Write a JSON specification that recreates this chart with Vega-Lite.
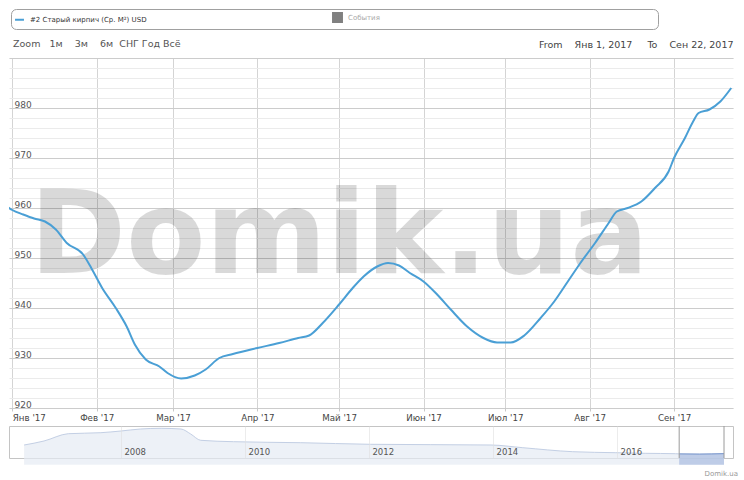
{
  "$schema": "https://vega.github.io/schema/vega-lite/v6.json",
  "padding": {"left": 8, "top": 8, "right": 4, "bottom": 0},
  "background": "white",
  "config": {
    "font": "DejaVu Sans",
    "view": {"stroke": null}
  },
  "datasets": {
    "price": [
      {"date": "2016-12-30", "value": 960.3},
      {"date": "2017-01-01", "value": 959.6},
      {"date": "2017-01-05", "value": 958.7},
      {"date": "2017-01-09", "value": 957.9},
      {"date": "2017-01-13", "value": 957.3},
      {"date": "2017-01-17", "value": 955.7},
      {"date": "2017-01-21", "value": 953.0},
      {"date": "2017-01-27", "value": 950.7},
      {"date": "2017-01-30", "value": 948.0},
      {"date": "2017-02-03", "value": 944.0},
      {"date": "2017-02-08", "value": 940.0},
      {"date": "2017-02-12", "value": 936.3},
      {"date": "2017-02-15", "value": 932.7},
      {"date": "2017-02-19", "value": 929.7},
      {"date": "2017-02-24", "value": 928.3},
      {"date": "2017-02-27", "value": 927.0},
      {"date": "2017-03-04", "value": 925.9},
      {"date": "2017-03-09", "value": 926.5},
      {"date": "2017-03-13", "value": 927.7},
      {"date": "2017-03-18", "value": 930.0},
      {"date": "2017-03-23", "value": 930.8},
      {"date": "2017-04-01", "value": 932.0},
      {"date": "2017-04-09", "value": 933.0},
      {"date": "2017-04-16", "value": 934.0},
      {"date": "2017-04-20", "value": 934.5},
      {"date": "2017-04-25", "value": 937.0},
      {"date": "2017-05-01", "value": 940.7},
      {"date": "2017-05-06", "value": 944.0},
      {"date": "2017-05-10", "value": 946.3},
      {"date": "2017-05-15", "value": 948.3},
      {"date": "2017-05-19", "value": 949.0},
      {"date": "2017-05-23", "value": 948.5},
      {"date": "2017-05-27", "value": 947.0},
      {"date": "2017-06-01", "value": 945.3},
      {"date": "2017-06-06", "value": 942.7},
      {"date": "2017-06-11", "value": 939.7},
      {"date": "2017-06-17", "value": 936.3},
      {"date": "2017-06-23", "value": 934.0},
      {"date": "2017-06-28", "value": 933.1},
      {"date": "2017-07-03", "value": 933.1},
      {"date": "2017-07-08", "value": 934.5},
      {"date": "2017-07-14", "value": 938.0},
      {"date": "2017-07-19", "value": 941.3},
      {"date": "2017-07-24", "value": 945.3},
      {"date": "2017-07-29", "value": 949.3},
      {"date": "2017-08-03", "value": 953.0},
      {"date": "2017-08-08", "value": 957.0},
      {"date": "2017-08-11", "value": 959.3},
      {"date": "2017-08-15", "value": 960.0},
      {"date": "2017-08-20", "value": 961.3},
      {"date": "2017-08-25", "value": 964.0},
      {"date": "2017-08-30", "value": 967.3},
      {"date": "2017-09-01", "value": 970.0},
      {"date": "2017-09-05", "value": 974.0},
      {"date": "2017-09-08", "value": 977.3},
      {"date": "2017-09-10", "value": 979.0},
      {"date": "2017-09-14", "value": 979.7},
      {"date": "2017-09-18", "value": 981.3},
      {"date": "2017-09-22", "value": 984.0}
    ],
    "history": [
      {"date": "2006-06-10", "value": 1737},
      {"date": "2006-10-05", "value": 2087},
      {"date": "2007-02-25", "value": 2726},
      {"date": "2007-09-05", "value": 2814},
      {"date": "2008-01-01", "value": 2962},
      {"date": "2008-04-25", "value": 3137},
      {"date": "2008-08-25", "value": 3199},
      {"date": "2008-12-20", "value": 3137},
      {"date": "2009-02-15", "value": 2700},
      {"date": "2009-04-15", "value": 2149},
      {"date": "2009-10-25", "value": 2026},
      {"date": "2010-11-25", "value": 1939},
      {"date": "2012-01-10", "value": 1799},
      {"date": "2013-12-20", "value": 1737},
      {"date": "2014-06-25", "value": 1501},
      {"date": "2015-04-15", "value": 1151},
      {"date": "2015-12-25", "value": 1064},
      {"date": "2016-06-15", "value": 1010},
      {"date": "2016-12-10", "value": 976},
      {"date": "2017-01-01", "value": 960},
      {"date": "2017-05-01", "value": 941},
      {"date": "2017-09-22", "value": 984}
    ],
    "selected": [
      {"date": "2017-01-01", "value": 960},
      {"date": "2017-05-01", "value": 941},
      {"date": "2017-09-22", "value": 984}
    ],
    "handles": [
      {"date": "2017-01-01"},
      {"date": "2017-09-22"}
    ]
  },
  "spacing": 18,
  "bounds": "flush",
  "vconcat": [
    {
      "width": 724,
      "height": 350,
      "title": {
        "text": "Zoom\u00a0\u00a0\u00a01м\u00a0\u00a0\u00a0\u00a03м\u00a0\u00a0\u00a0\u00a06м\u00a0\u00a0СНГ\u00a0Год\u00a0Всё",
        "anchor": "start",
        "frame": "group",
        "orient": "top",
        "fontSize": 9.5,
        "fontWeight": "normal",
        "color": "#555555",
        "dx": 4,
        "offset": -14,
        "baseline": "middle"
      },
      "layer": [
        {
          "data": {"values": [{"label": "Domik.ua"}]},
          "mark": {"type": "text", "font": "DejaVu Sans", "fontWeight": "bold", "fontSize": 116, "fill": "#000000", "fillOpacity": 0.15, "align": "center", "baseline": "alphabetic"},
          "encoding": {
            "x": {
              "datum": {"year": 2017, "month": 5, "date": 1, "utc": true},
              "type": "temporal",
              "scale": {"domain": [{"year": 2016, "month": 12, "date": 30, "hours": 19, "utc": true}, {"year": 2017, "month": 9, "date": 22, "hours": 15, "minutes": 30, "utc": true}]},
              "axis": {"orient": "top", "title": "From\u00a0\u00a0\u00a0\u00a0Янв 1, 2017\u00a0\u00a0\u00a0\u00a0\u00a0To\u00a0\u00a0\u00a0\u00a0Сен 22, 2017", "titleAnchor": "end", "labels": false, "ticks": false, "domain": false, "grid": false, "titlePadding": 14, "titleFontSize": 9.5, "titleFontWeight": "normal", "titleColor": "#444444", "titleBaseline": "middle"}
            },
            "y": {
              "datum": 947,
              "type": "quantitative",
              "scale": {"domain": [920, 990]},
              "axis": {"orient": "left", "values": [920, 922, 924, 926, 928, 930, 932, 934, 936, 938, 940, 942, 944, 946, 948, 950, 952, 954, 956, 958, 960, 962, 964, 966, 968, 970, 972, 974, 976, 978, 980, 982, 984, 986, 988, 990], "grid": true, "gridColor": "#ebebeb", "labels": false, "ticks": false, "domain": false, "title": null}
            },
            "text": {"field": "label"}
          }
        },
        {
          "data": {"name": "price"},
          "mark": {"type": "line", "interpolate": "monotone", "strokeWidth": 2, "clip": true},
          "encoding": {
            "x": {
              "field": "date",
              "type": "temporal",
              "scale": {"domain": [{"year": 2016, "month": 12, "date": 30, "hours": 19, "utc": true}, {"year": 2017, "month": 9, "date": 22, "hours": 15, "minutes": 30, "utc": true}]},
              "axis": {
                "orient": "bottom",
                "values": [
                  {"year": 2017, "month": 1, "date": 1, "utc": true},
                  {"year": 2017, "month": 2, "date": 1, "utc": true},
                  {"year": 2017, "month": 3, "date": 1, "utc": true},
                  {"year": 2017, "month": 4, "date": 1, "utc": true},
                  {"year": 2017, "month": 5, "date": 1, "utc": true},
                  {"year": 2017, "month": 6, "date": 1, "utc": true},
                  {"year": 2017, "month": 7, "date": 1, "utc": true},
                  {"year": 2017, "month": 8, "date": 1, "utc": true},
                  {"year": 2017, "month": 9, "date": 1, "utc": true}
                ],
                "labelExpr": "['Янв','Фев','Мар','Апр','Май','Июн','Июл','Авг','Сен','Окт','Ноя','Дек'][utcmonth(datum.value)] + \" '\" + utcFormat(datum.value, '%y')",
                "grid": true,
                "gridColor": "#d4d4d4",
                "ticks": true,
                "tickSize": 3,
                "tickColor": "#c8c8c8",
                "domain": false,
                "labelPadding": 2,
                "labelFontSize": 8.7,
                "labelColor": "#444444",
                "labelFlush": 10,
                "title": null
              }
            },
            "y": {
              "field": "value",
              "type": "quantitative",
              "scale": {"domain": [920, 990]},
              "axis": {
                "orient": "left",
                "values": [920, 930, 940, 950, 960, 970, 980, 990],
                "labelExpr": "datum.value >= 990 ? '' : datum.label",
                "grid": true,
                "gridColor": "#cccccc",
                "ticks": false,
                "tickSize": 0,
                "domain": false,
                "labelAlign": "left",
                "labelBaseline": "bottom",
                "labelPadding": -5,
                "labelOffset": 1,
                "labelFontSize": 9,
                "labelColor": "#555555",
                "title": null
              }
            },
            "color": {
              "datum": "#2 Старый кирпич (Ср. М²) USD",
              "scale": {"domain": ["#2 Старый кирпич (Ср. М²) USD", "События"], "range": ["#4a9fd5", "#808080"]},
              "legend": {
                "orient": "none",
                "legendX": 2,
                "legendY": -49,
                "direction": "horizontal",
                "columns": 2,
                "columnPadding": 182,
                "title": "\u00a0",
                "titleOrient": "right",
                "titleLimit": 1000,
                "titleFontSize": 7,
                "titlePadding": 275,
                "symbolSize": 80,
                "symbolStrokeWidth": 2,
                "labelFontSize": 7,
                "labelColor": "#333333",
                "labelOffset": 5,
                "padding": 3,
                "strokeColor": "#a0a0a0",
                "cornerRadius": 5,
                "fillColor": "white",
                "encode": {
                  "symbols": {"update": {
                    "shape": {"signal": "datum.value === 'События' ? 'square' : 'stroke'"},
                    "fill": {"signal": "datum.value === 'События' ? '#808080' : 'transparent'"},
                    "stroke": {"signal": "datum.value === 'События' ? '#808080' : '#4a9fd5'"}
                  }},
                  "labels": {"update": {
                    "fill": {"signal": "datum.value === 'События' ? '#aaaaaa' : '#333333'"}
                  }}
                }
              }
            }
          }
        }
      ],
      "resolve": {"axis": {"x": "independent", "y": "independent"}}
    },
    {
      "width": 724,
      "height": 32,
      "view": {"stroke": "#c4c4c4"},
      "title": {"text": "Domik.ua", "orient": "bottom", "anchor": "end", "frame": "group", "fontSize": 7, "fontWeight": "normal", "color": "#999999", "offset": 5, "dx": 5},
      "layer": [
        {
          "data": {"name": "history"},
          "mark": {"type": "area", "color": "#e6ebf4", "interpolate": "monotone", "line": {"color": "#c3cfe4", "strokeWidth": 1}},
          "encoding": {
            "x": {
              "field": "date",
              "type": "temporal",
              "scale": {"domain": [{"year": 2006, "month": 3, "date": 13, "utc": true}, {"year": 2017, "month": 11, "date": 14, "utc": true}]},
              "axis": {
                "orient": "bottom",
                "zindex": 1,
                "values": [
                  {"year": 2008, "month": 1, "date": 1, "utc": true},
                  {"year": 2010, "month": 1, "date": 1, "utc": true},
                  {"year": 2012, "month": 1, "date": 1, "utc": true},
                  {"year": 2014, "month": 1, "date": 1, "utc": true},
                  {"year": 2016, "month": 1, "date": 1, "utc": true}
                ],
                "labelExpr": "utcFormat(datum.value, '%Y')",
                "grid": true,
                "gridColor": "#e0e0e0",
                "gridOpacity": 0.6,
                "ticks": false,
                "tickSize": 0,
                "domain": false,
                "labelAlign": "left",
                "labelBaseline": "top",
                "labelPadding": -11,
                "labelOffset": 3,
                "labelFontSize": 8.5,
                "labelColor": "#555555",
                "title": null
              }
            },
            "y": {"field": "value", "type": "quantitative", "scale": {"domain": [600, 3400]}, "axis": null}
          }
        },
        {
          "data": {"name": "selected"},
          "mark": {"type": "area", "color": "#a9bce0", "interpolate": "monotone", "line": {"color": "#7e9bd0", "strokeWidth": 1}},
          "encoding": {
            "x": {"field": "date", "type": "temporal"},
            "y": {"field": "value", "type": "quantitative"}
          }
        },
        {
          "data": {"name": "handles"},
          "mark": {"type": "rule", "color": "#9a9a9a", "strokeWidth": 1},
          "encoding": {
            "x": {"field": "date", "type": "temporal"}
          }
        }
      ]
    }
  ]
}
